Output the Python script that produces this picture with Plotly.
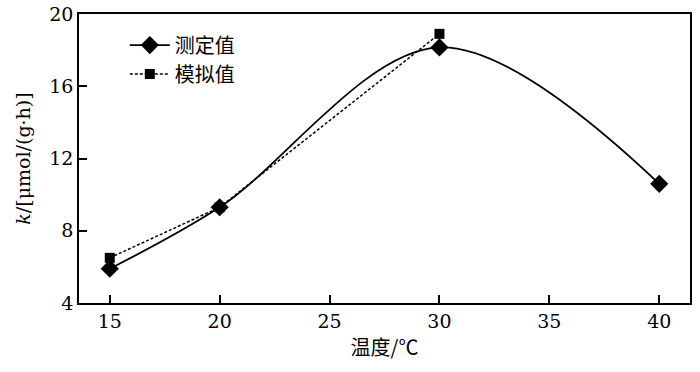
import plotly.graph_objects as go

temps_meas = [15, 20, 30, 40]
k_meas = [5.9, 9.3, 18.15, 10.6]
temps_sim = [15, 20, 30]
k_sim = [6.5, 9.3, 18.9]
x_ticks = [15, 20, 25, 30, 35, 40]
y_ticks = [4, 8, 12, 16, 20]

serif = "DejaVu Serif"
cjk = "Noto Sans CJK SC"

fig = go.Figure()
fig.add_trace(go.Scatter(
    x=temps_meas, y=k_meas, name="测定值", mode="lines+markers",
    line=dict(color="black", width=1.8, shape="spline", smoothing=1.0),
    marker=dict(symbol="diamond", size=14, color="black"),
))
fig.add_trace(go.Scatter(
    x=temps_sim, y=k_sim, name="模拟值", mode="lines+markers",
    line=dict(color="black", width=1.5, dash="3px,2px"),
    marker=dict(symbol="square", size=10, color="black"),
))

axis_common = dict(
    showline=True, linecolor="black", linewidth=1.5, mirror=True,
    ticks="inside", ticklen=8, tickwidth=1.5, tickcolor="black",
    showgrid=False, zeroline=False, automargin=False,
    tickfont=dict(family=serif, size=19, color="black"),
)
fig.update_xaxes(range=[13.6, 41.4], tickvals=x_ticks,
                 title=dict(text="温度/℃", font=dict(family=cjk, size=20, color="black"), standoff=10),
                 **axis_common)
fig.update_yaxes(range=[4, 20], tickvals=y_ticks,
                 title=dict(text="<i>k</i>/[μmol/(g·h)]", font=dict(family=serif, size=19, color="black"), standoff=14),
                 **axis_common)

fig.update_layout(
    width=700, height=372,
    margin=dict(l=79, r=10, t=14, b=69),
    plot_bgcolor="white", paper_bgcolor="white",
    font=dict(family=serif),
    legend=dict(x=0.075, y=0.96, xanchor="left", yanchor="top",
                font=dict(family=cjk, size=20, color="black"),
                bgcolor="rgba(0,0,0,0)", tracegroupgap=0, itemwidth=40),
    showlegend=True,
)
fig.write_html("out.html", config={"displayModeBar": False},
               post_script="document.body.style.margin='0';document.body.style.overflow='hidden';")
